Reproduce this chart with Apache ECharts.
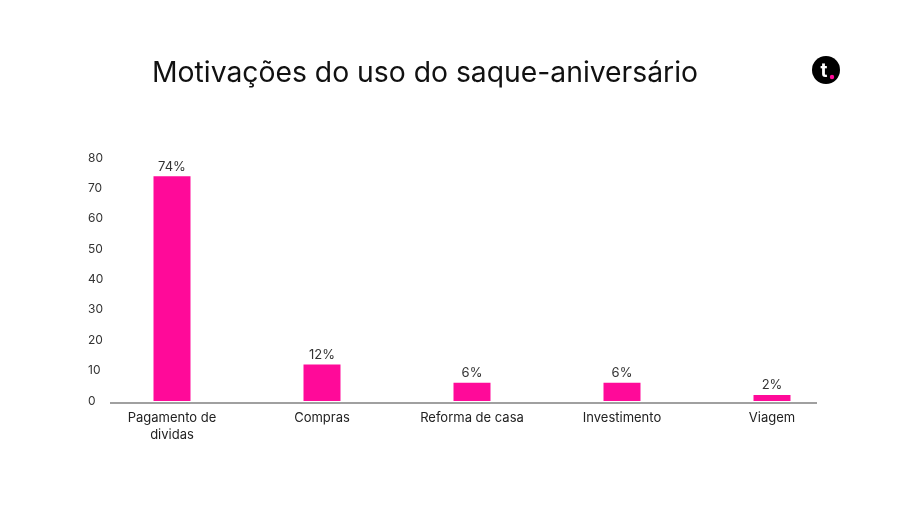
<!DOCTYPE html>
<html><head><meta charset="utf-8">
<script src="https://cdn.jsdelivr.net/npm/echarts@6/dist/echarts.min.js"></script>
<style>html,body{margin:0;padding:0;background:#fff}#c{width:906px;height:508px}</style>
</head><body><div id="c"></div>
<script>
const categories = ["Pagamento de\ndividas", "Compras", "Reforma de casa", "Investimento", "Viagem"];
const values = [74, 12, 6, 6, 2];
const barLabels = ["74%", "12%", "6%", "6%", "2%"];
const yTicks = [0, 10, 20, 30, 40, 50, 60, 70, 80];

const chart = echarts.init(document.getElementById('c'), null, {renderer: 'canvas'});
chart.setOption({
  backgroundColor: '#ffffff',
  animation: false,
  title: {
    text: 'Motivações do uso do saque-aniversário',
    left: 425, top: 54, textAlign: 'center',
    textStyle: {fontFamily: 'Inter', fontWeight: 400, fontSize: 28.3, color: '#111'}
  },
  grid: {left: 97, right: 59, top: 158, bottom: 107, containLabel: false},
  xAxis: {
    type: 'category', data: categories,
    axisLine: {show: false}, axisTick: {show: false},
    axisLabel: {fontFamily: 'Inter', fontSize: 13, color: '#222', lineHeight: 17, margin: 9}
  },
  yAxis: {
    type: 'value', min: yTicks[0], max: yTicks[yTicks.length - 1], interval: 10,
    splitLine: {show: false}, axisLine: {show: false}, axisTick: {show: false},
    axisLabel: {fontFamily: 'Inter', fontSize: 12, color: '#333', align: 'left', margin: 9, padding: [0, 0, 3, 0]}
  },
  series: [{
    type: 'bar', data: values, barWidth: 37,
    itemStyle: {color: '#FF0A99'},
    label: {show: true, position: 'top', distance: 3, fontFamily: 'Inter', fontSize: 13, color: '#333',
      formatter: p => barLabels[p.dataIndex]}
  }],
  graphic: [
    {type: 'line', shape: {x1: 110, y1: 403, x2: 817, y2: 403}, style: {stroke: '#a0a0a0', lineWidth: 2}},
    {type: 'circle', shape: {cx: 826, cy: 70, r: 14}, style: {fill: '#000'}},
    {type: 'text', style: {x: 824, y: 71, text: 't', fill: '#fff', font: 'bold 19px Inter', align: 'center', verticalAlign: 'middle'}},
    {type: 'circle', shape: {cx: 832, cy: 77, r: 2.2}, style: {fill: '#FF0A99'}}
  ]
});
chart.setOption({title: {left: 420}});
</script></body></html>
